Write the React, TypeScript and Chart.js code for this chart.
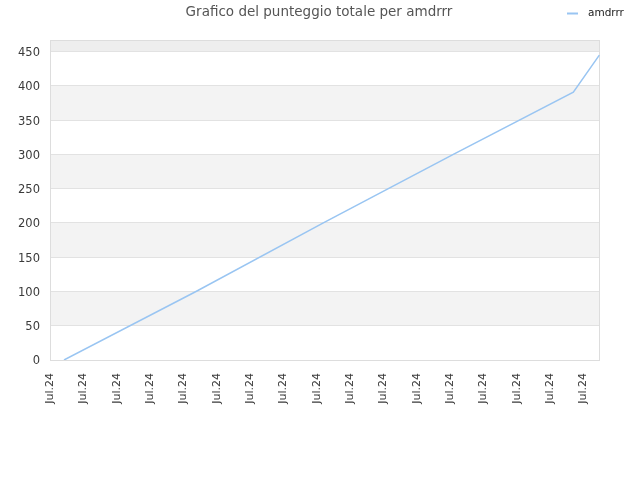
import { Chart, registerables } from 'chart.js';
import { useEffect, useRef } from 'react';

Chart.register(...registerables);

const chartTitle = 'Grafico del punteggio totale per amdrrr';
const seriesName = 'amdrrr';
const xTickLabels = [
    'Jul.24', 'Jul.24', 'Jul.24', 'Jul.24', 'Jul.24', 'Jul.24', 'Jul.24', 'Jul.24', 'Jul.24',
    'Jul.24', 'Jul.24', 'Jul.24', 'Jul.24', 'Jul.24', 'Jul.24', 'Jul.24', 'Jul.24'
];
// position along the time axis (one unit per tick label) and total score
const timePositions = [0.42, 4.38, 8.2, 12.1, 15.7, 16.48];
const totalScore = [0, 100, 200, 300, 391, 445];

const lineColor = '#99c5f2';
const font = '"DejaVu Sans", sans-serif';

const decorations = {
    id: 'decorations',
    beforeDraw(chart: Chart) {
        const { ctx, chartArea: a, scales } = chart;
        const y = scales.y;
        const ticks = y.ticks.map(t => t.value);
        ctx.save();
        for (let i = 0; i < ticks.length; i++) {
            const lo = ticks[i];
            const hi = i + 1 < ticks.length ? ticks[i + 1] : (y.max as number);
            const top = y.getPixelForValue(hi);
            const bottom = y.getPixelForValue(lo);
            if (i === ticks.length - 1) ctx.fillStyle = '#eeeeee';
            else if (i % 2 === 1) ctx.fillStyle = '#f3f3f3';
            else continue;
            ctx.fillRect(a.left, top, a.right - a.left, bottom - top);
        }
        ctx.restore();
    },
    beforeDatasetsDraw(chart: Chart) {
        const { ctx, chartArea: a } = chart;
        ctx.save();
        ctx.strokeStyle = '#dddddd';
        ctx.lineWidth = 1;
        ctx.strokeRect(a.left + 0.5, a.top + 0.5, a.right - a.left - 1, a.bottom - a.top);
        ctx.restore();
    },
    afterDraw(chart: Chart) {
        const { ctx } = chart;
        ctx.save();
        ctx.fillStyle = '#555555';
        ctx.font = '13.5px ' + font;
        ctx.textAlign = 'center';
        ctx.textBaseline = 'middle';
        ctx.fillText(chartTitle, 319, 12);

        ctx.strokeStyle = lineColor;
        ctx.lineWidth = 2;
        ctx.beginPath();
        ctx.moveTo(567, 13.5);
        ctx.lineTo(578, 13.5);
        ctx.stroke();

        ctx.fillStyle = '#222222';
        ctx.font = '10.5px ' + font;
        ctx.textAlign = 'left';
        ctx.fillText(seriesName, 588, 13);
        ctx.restore();
    }
};

function ScoreChart() {
    const canvasRef = useRef<HTMLCanvasElement>(null);
    const chartRef = useRef<Chart | null>(null);

    useEffect(() => {
        document.body.style.margin = '0';
        if (!canvasRef.current) return;
        const ctx = canvasRef.current.getContext('2d');
        if (!ctx) return;
        if (chartRef.current) chartRef.current.destroy();

        chartRef.current = new Chart(ctx, {
            type: 'line',
            data: {
                datasets: [{
                    label: seriesName,
                    data: timePositions.map((x, i) => ({ x, y: totalScore[i] })),
                    borderColor: lineColor,
                    borderWidth: 1.5,
                    pointRadius: 0,
                    tension: 0,
                    fill: false
                }]
            },
            options: {
                animation: false,
                responsive: false,
                devicePixelRatio: 1,
                layout: { padding: { top: 40, right: 40, left: 0, bottom: 0 } },
                plugins: {
                    legend: { display: false },
                    title: { display: false },
                    tooltip: { enabled: false }
                },
                scales: {
                    x: {
                        type: 'linear',
                        min: 0,
                        max: 16.5,
                        grid: { display: false, drawTicks: false },
                        border: { display: false },
                        afterFit: (s: any) => { s.height = 120; },
                        ticks: {
                            stepSize: 1,
                            includeBounds: false,
                            autoSkip: false,
                            minRotation: 90,
                            maxRotation: 90,
                            padding: 13,
                            color: '#3a3a3a',
                            font: { family: font, size: 11 },
                            callback: (_v: any, i: number) => xTickLabels[i]
                        }
                    },
                    y: {
                        min: 0,
                        max: 467,
                        grid: { color: '#e2e2e2', drawTicks: false },
                        border: { display: false },
                        afterFit: (s: any) => { s.width = 50; },
                        ticks: {
                            stepSize: 50,
                            includeBounds: false,
                            padding: 10,
                            labelOffset: 1.5,
                            color: '#3a3a3a',
                            font: { family: font, size: 11.5 }
                        }
                    }
                }
            },
            plugins: [decorations]
        });

        return () => {
            if (chartRef.current) {
                chartRef.current.destroy();
                chartRef.current = null;
            }
        };
    }, []);

    return <canvas ref={canvasRef} width={640} height={480} style={{ display: 'block' }} />;
}

export default function App() {
    return <ScoreChart />;
}
